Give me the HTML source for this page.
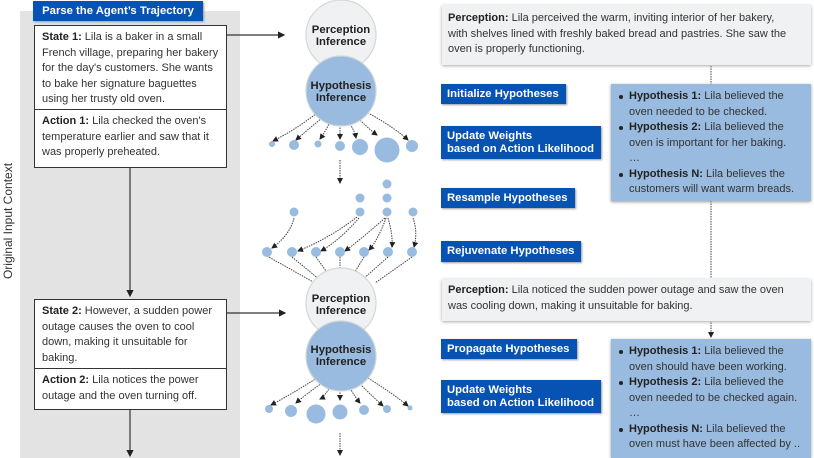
<!DOCTYPE html>
<html><head><meta charset="utf-8"><style>
*{margin:0;padding:0;box-sizing:border-box}
body{width:814px;height:458px;overflow:hidden;background:#fff;font-family:"Liberation Sans",sans-serif;position:relative}
.a{position:absolute}
.box{position:absolute;border:1.5px solid #333;background:#fff;font-size:11px;line-height:15.5px;color:#333;padding:4px 7px;white-space:nowrap}
.btn{position:absolute;background:#0653b3;color:#fff;font-weight:bold;font-size:11.3px;line-height:12.5px;padding:4px 6px 3px;box-shadow:1px 1px 2px #999;white-space:nowrap}
.per{position:absolute;background:#eff1f2;box-shadow:0 1px 3px #aaa;font-size:11px;line-height:15.5px;color:#333;padding:6px 6px;white-space:nowrap}
.hyp{position:absolute;background:#99bbdf;box-shadow:0 1px 3px #999;font-size:11px;line-height:15.5px;color:#333;padding:5px 4px 0 7px;white-space:nowrap}
.hyp div{padding-left:11px;position:relative}
.hyp div.b:before{content:"";position:absolute;left:1px;top:6px;width:4px;height:4px;border-radius:50%;background:#222}
b{color:#222}
</style></head><body>
<div class="a" style="left:20px;top:11px;width:220px;height:447px;background:#e3e3e3"></div>
<div class="btn" style="left:33px;top:1px;width:170px;height:20px;text-align:center">Parse the Agent’s Trajectory</div>
<div class="a" style="left:-62px;top:214px;width:140px;text-align:center;transform:rotate(-90deg);font-size:12px;color:#333">Original Input Context</div>
<div class="box" style="left:34px;top:25px;width:193px;height:86px"><b>State 1:</b> Lila is a baker in a small<br>French village, preparing her bakery<br>for the day's customers. She wants<br>to bake her signature baguettes<br>using her trusty old oven.</div>
<div class="box" style="left:34px;top:109px;width:193px;height:59px"><b>Action 1:</b> Lila checked the oven's<br>temperature earlier and saw that it<br>was properly preheated.</div>
<div class="box" style="left:34px;top:299px;width:193px;height:71px"><b>State 2:</b> However, a sudden power<br>outage causes the oven to cool<br>down, making it unsuitable for<br>baking.</div>
<div class="box" style="left:34px;top:368px;width:193px;height:42px"><b>Action 2:</b> Lila notices the power<br>outage and the oven turning off.</div>

<svg class="a" style="left:0;top:0" width="814" height="458">
<defs><marker id="m" markerWidth="6" markerHeight="6" refX="5" refY="3" orient="auto"><path d="M0,0L6,3L0,6z" fill="#222"/></marker></defs>
<g stroke="#333" stroke-width="1.2" fill="none">
<line x1="130" y1="168" x2="130" y2="296" marker-end="url(#m)"/>
<line x1="130" y1="410" x2="130" y2="456" marker-end="url(#m)"/>
<line x1="227" y1="35" x2="284" y2="35" marker-end="url(#m)"/>
<line x1="227" y1="313" x2="285" y2="313" marker-end="url(#m)"/>
</g>
<g stroke="#444" stroke-width="1" fill="none" stroke-dasharray="1.5,1">
<path d="M317,113 Q295,130 273,141" marker-end="url(#m)"/>
<path d="M322,118 Q305,132 296,140" marker-end="url(#m)"/>
<path d="M330,122 Q325,132 320,139" marker-end="url(#m)"/>
<path d="M340,125 L340,139" marker-end="url(#m)"/>
<path d="M350,124 Q355,132 356,138" marker-end="url(#m)"/>
<path d="M360,120 Q370,130 377,135" marker-end="url(#m)"/>
<path d="M370,114 Q395,128 408,140" marker-end="url(#m)"/>
<path d="M340,160 L340,183" marker-end="url(#m)"/>
<path d="M294,218 Q290,235 272,248" marker-end="url(#m)"/>
<path d="M357,217 Q330,238 298,251" marker-end="url(#m)"/>
<path d="M359,218 Q340,240 321,251" marker-end="url(#m)"/>
<path d="M385,218 Q360,240 345,251" marker-end="url(#m)"/>
<path d="M386,218 Q378,240 369,250" marker-end="url(#m)"/>
<path d="M388,218 Q393,235 392,247" marker-end="url(#m)"/>
<path d="M413,218 Q418,232 414,247" marker-end="url(#m)"/>
<path d="M267,256 L315,283"/><path d="M292,257 L320,280"/><path d="M316,257 L329,275"/><path d="M340,257 L340,270"/><path d="M364,257 L353,275"/><path d="M388,257 L362,280"/><path d="M412,257 L375,283"/>
<path d="M317,378 Q290,395 271,405" marker-end="url(#m)"/>
<path d="M322,383 Q305,395 296,403" marker-end="url(#m)"/>
<path d="M330,387 Q324,397 320,399" marker-end="url(#m)"/>
<path d="M340,390 L340,400" marker-end="url(#m)"/>
<path d="M350,388 Q355,397 360,403" marker-end="url(#m)"/>
<path d="M360,384 Q372,396 383,406" marker-end="url(#m)"/>
<path d="M368,378 Q395,395 408,406" marker-end="url(#m)"/>
<path d="M340,433 L340,455" marker-end="url(#m)"/>
<path d="M711,66 L711,86"/><path d="M711,201 L711,278"/><path d="M711,320 L711,337" marker-end="url(#m)"/>
</g>
<g fill="#99bbdf">
<circle cx="272" cy="144" r="3"/><circle cx="294" cy="145" r="5"/><circle cx="318" cy="144" r="3.5"/><circle cx="340" cy="146" r="5"/><circle cx="360" cy="147" r="8"/><circle cx="387" cy="150" r="12.5"/><circle cx="412" cy="146" r="6"/>
<circle cx="387" cy="184" r="4.5"/><circle cx="360" cy="198" r="4.5"/><circle cx="387" cy="198" r="4.5"/><circle cx="294" cy="212" r="4.5"/><circle cx="360" cy="212" r="4.5"/><circle cx="387" cy="212" r="4.5"/><circle cx="413" cy="212" r="4.5"/>
<circle cx="267" cy="252" r="5"/><circle cx="292" cy="252" r="5"/><circle cx="316" cy="252" r="5"/><circle cx="340" cy="252" r="5"/><circle cx="364" cy="252" r="5"/><circle cx="388" cy="252" r="5"/><circle cx="412" cy="252" r="5"/>
<circle cx="269" cy="409" r="4"/><circle cx="291" cy="411" r="6"/><circle cx="316" cy="414" r="9.5"/><circle cx="340" cy="412" r="7.5"/><circle cx="364" cy="410" r="5"/><circle cx="387" cy="409" r="4"/><circle cx="410" cy="408" r="2.5"/>
</g>
<g stroke="#d4d6d8" stroke-width="1.2">
<circle cx="341" cy="35" r="35" fill="#eff1f2"/><circle cx="341" cy="91" r="35" fill="#99bbdf"/>
<circle cx="341" cy="303" r="35" fill="#eff1f2"/><circle cx="341" cy="356" r="35" fill="#99bbdf"/>
</g>
<g font-family="Liberation Sans,sans-serif" font-weight="bold" font-size="11.3" fill="#222" text-anchor="middle">
<text x="341" y="33">Perception</text><text x="341" y="45">Inference</text>
<text x="341" y="89">Hypothesis</text><text x="341" y="101">Inference</text>
<text x="341" y="302">Perception</text><text x="341" y="314">Inference</text>
<text x="341" y="353">Hypothesis</text><text x="341" y="365">Inference</text>
</g>
</svg>

<div class="per" style="left:442px;top:5px;width:369px;height:60px"><b>Perception:</b> Lila perceived the warm, inviting interior of her bakery,<br>with shelves lined with freshly baked bread and pastries. She saw the<br>oven is properly functioning.</div>
<div class="per" style="left:442px;top:279px;width:369px;height:42px;padding-top:4px"><b>Perception:</b> Lila noticed the sudden power outage and saw the oven<br>was cooling down, making it unsuitable for baking.</div>
<div class="btn" style="left:441px;top:84px;width:125px;height:20px">Initialize Hypotheses</div>
<div class="btn" style="left:441px;top:126px;width:160px;height:33px">Update Weights<br>based on Action Likelihood</div>
<div class="btn" style="left:441px;top:188px;width:134px;height:20px">Resample Hypotheses</div>
<div class="btn" style="left:441px;top:241px;width:140px;height:21px">Rejuvenate Hypotheses</div>
<div class="btn" style="left:441px;top:339px;width:136px;height:20px">Propagate Hypotheses</div>
<div class="btn" style="left:441px;top:380px;width:160px;height:33px">Update Weights<br>based on Action Likelihood</div>
<div class="hyp" style="left:611px;top:84px;width:200px;height:117px">
<div class="b"><b>Hypothesis 1:</b> Lila believed the<br>oven needed to be checked.</div>
<div class="b"><b>Hypothesis 2:</b> Lila believed the<br>oven is important for her baking.</div>
<div>…</div>
<div class="b"><b>Hypothesis N:</b> Lila believes the<br>customers will want warm breads.</div>
</div>
<div class="hyp" style="left:611px;top:339px;width:200px;height:119px">
<div class="b"><b>Hypothesis 1:</b> Lila believed the<br>oven should have been working.</div>
<div class="b"><b>Hypothesis 2:</b> Lila believed the<br>oven needed to be checked again.</div>
<div>…</div>
<div class="b"><b>Hypothesis N:</b> Lila believed the<br>oven must have been affected by ..</div>
</div>
</body></html>
